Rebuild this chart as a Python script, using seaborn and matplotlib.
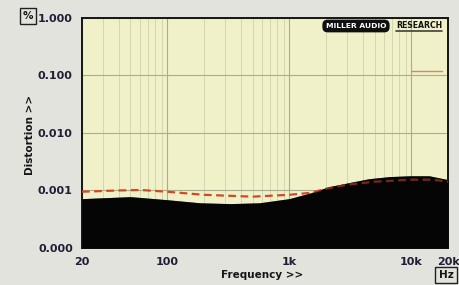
import numpy as np
import pandas as pd
import matplotlib.pyplot as plt
import seaborn as sns
from matplotlib.lines import Line2D

# --- data ---
noise_freq = [20, 50, 100, 185, 330, 570, 1000, 1500, 2100, 3100, 4500, 6600, 9700, 14000, 20000]
noise_pct = [0.00072, 0.00078, 0.00069, 0.00061, 0.00059, 0.00061, 0.00072, 0.00091,
             0.00116, 0.00137, 0.00160, 0.00174, 0.00180, 0.00180, 0.00154]

thd_freq = [20, 40, 60, 100, 200, 500, 1000, 1500, 2000, 3000, 5000, 10000, 15000, 20000]
thd_pct = [0.00095, 0.00100, 0.00102, 0.00095, 0.00084, 0.00078, 0.00084, 0.00091,
           0.00107, 0.00126, 0.00142, 0.00154, 0.00154, 0.00142]

hi_freq = [10000, 18000]
hi_pct = [0.12, 0.12]

y_ticks = [0.0001, 0.001, 0.01, 0.1, 1.0]
y_labels = ['0.000', '0.001', '0.010', '0.100', '1.000']
x_ticks = [20, 100, 1000, 10000, 20000]
x_labels = ['20', '100', '1k', '10k', '20k']

df_thd = pd.DataFrame({'freq': thd_freq, 'pct': thd_pct})
df_hi = pd.DataFrame({'freq': hi_freq, 'pct': hi_pct})

sns.set_theme(style="white")
plt.rcParams['font.family'] = ['DejaVu Sans']

fig = plt.figure(figsize=(4.6, 2.85), dpi=100)
fig.patch.set_facecolor('#e3e3de')
ax = fig.add_axes([0.178, 0.130, 0.796, 0.807])
ax.set_facecolor('#f0f1c8')

ax.set_xscale('log')
ax.set_yscale('log')
ax.set_xlim(20, 20000)
ax.set_ylim(0.0001, 1.0)

# grid: every minor frequency, decades on y
ax.grid(which='major', axis='both', color='#a9ad8c', linewidth=0.8)
ax.grid(which='minor', axis='x', color='#d3d6ae', linewidth=0.7)
ax.yaxis.set_minor_locator(plt.NullLocator())

# noise floor
ax.fill_between(noise_freq, 0.0001, noise_pct, color='#050505', zorder=3, linewidth=0)

# distortion (dashed)
sns.lineplot(data=df_thd, x='freq', y='pct', ax=ax, color='#d2492a', linewidth=1.6, zorder=4)
ax.lines[-1].set_dashes([3.5, 2])
sns.lineplot(data=df_hi, x='freq', y='pct', ax=ax, color='#d08a68', linewidth=1.0, zorder=4)

# darken the dashes where they run inside the noise floor
ax.fill_between(noise_freq, 0.0001, noise_pct, color='#050505', alpha=0.45, zorder=5, linewidth=0)

ax.set_xticks(x_ticks)
ax.set_xticklabels(x_labels, fontsize=8, fontweight='bold', color='#1e1e34')
ax.set_yticks(y_ticks)
ax.set_yticklabels(y_labels, fontsize=8, fontweight='bold', color='#1e1e34')
ax.tick_params(axis='both', which='major', length=3, width=1, color='#202020')
ax.tick_params(axis='x', which='minor', length=2, width=0.6, direction='in', color='#808080')
ax.set_xlabel('')
ax.set_ylabel('')

for s in ax.spines.values():
    s.set_color('#151515')
    s.set_linewidth(1.4)

fig.text(30 / 460, 1 - 135 / 285, 'Distortion >>', rotation=90, ha='center', va='center',
         fontsize=7.5, fontweight='bold', color='#151515')
fig.text(262 / 460, 1 - 275 / 285, 'Frequency >>', ha='center', va='center',
         fontsize=7.5, fontweight='bold', color='#151515')
fig.text(28 / 460, 1 - 16 / 285, '%', ha='center', va='center', fontsize=7.5,
         fontweight='bold', color='#151515',
         bbox=dict(boxstyle='square,pad=0.3', fc='#e3e3de', ec='#202020', lw=1.0))
fig.text(446 / 460, 1 - 275 / 285, 'Hz', ha='center', va='center', fontsize=7.5,
         fontweight='bold', color='#151515',
         bbox=dict(boxstyle='square,pad=0.3', fc='#e3e3de', ec='#202020', lw=1.0))

# logo
fig.text(356 / 460, 1 - 26 / 285, 'MILLER AUDIO', ha='center', va='center', fontsize=5.4,
         fontweight='bold', color='white',
         bbox=dict(boxstyle='round,pad=0.45,rounding_size=0.7', fc='#101010', ec='none'))
fig.text(419 / 460, 1 - 25 / 285, 'RESEARCH', ha='center', va='center', fontsize=5.6,
         fontweight='bold', color='#101010')
fig.add_artist(Line2D([396 / 460, 442 / 460], [1 - 31 / 285, 1 - 31 / 285],
                      color='#404040', linewidth=1.2))

plt.savefig('out.png', dpi=100, facecolor=fig.get_facecolor())
